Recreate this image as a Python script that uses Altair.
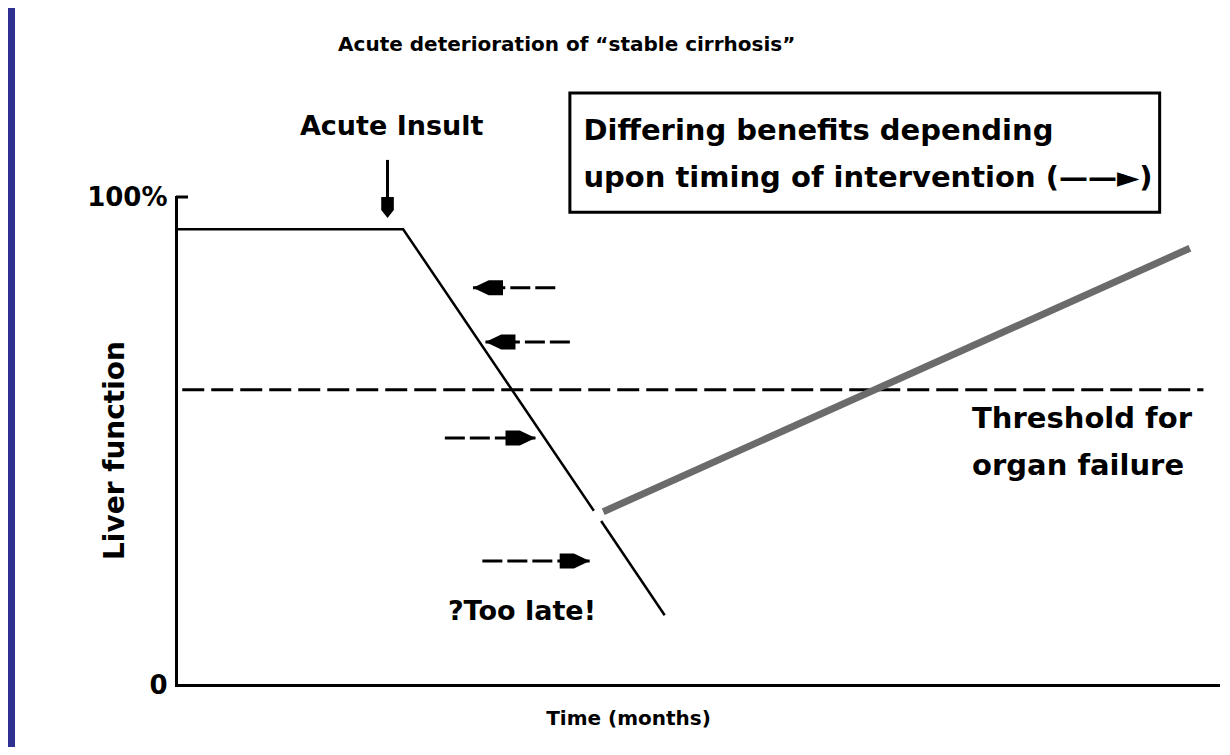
import altair as alt
import pandas as pd

# ---------------- data (time: arbitrary months 0-100, liver function: %) ----------------
course_time = [0.0, 21.8, 40.1]
course_function = [93.4, 93.4, 35.7]
late_time = [40.8, 46.9]
late_function = [33.6, 14.3]

recovery_time = [41.0, 97.3]
recovery_function = [35.5, 89.5]

threshold_function = 60.5
threshold_time = [0.6, 98.6]

intervention_level = [81.4, 70.3, 50.6, 25.4]
intervention_from = [36.4, 37.8, 25.8, 29.4]
intervention_to = [28.5, 29.7, 34.5, 39.7]

insult_time = 20.3
insult_from = 107.6
insult_to = 95.7

y_tick_values = [0, 100]
y_tick_labels = ["0", "100%"]

title_text = "Acute deterioration of \u201cstable cirrhosis\u201d"
title_pos = (37.5, 131.1)
insult_text = "Acute Insult"
insult_pos = (20.7, 114.3)
box_extent_t = [37.8, 94.4]
box_extent_f = [96.9, 121.3]
box_lines = ["Differing benefits depending", "upon timing of intervention (\u2014\u2014\u25ba)"]
box_lines_t = [39.1, 39.1]
box_lines_f = [111.7, 102.0]
threshold_lines = ["Threshold for", "organ failure"]
threshold_lines_t = [76.4, 76.4]
threshold_lines_f = [52.7, 43.0]
late_text = "?Too late!"
late_pos = (26.1, 13.3)

# ---------------- styling ----------------
FONT = "DejaVu Sans"
X = alt.Scale(domain=[0, 100], nice=False, zero=False)
Y = alt.Scale(domain=[0, 100], nice=False, zero=False)
PX_PER_T = 1042 / 100
PX_PER_F = 488 / 100
HEAD_LEN = 30  # px
LEFT_PATH = "M-1,0L0.05,-0.5L1,-0.5L1,0.5L0.05,0.5Z"
RIGHT_PATH = "M1,0L-0.05,-0.5L-1,-0.5L-1,0.5L-0.05,0.5Z"
DOWN_PATH = "M-0.6,-1L0.6,-1L0.6,0.25L0,1L-0.6,0.25Z"

label_expr = "'" + y_tick_labels[-1] + "'"
for v, l in reversed(list(zip(y_tick_values[:-1], y_tick_labels[:-1]))):
    label_expr = f"datum.value == {v} ? '{l}' : {label_expr}"

# ---------------- tables ----------------
course_df = pd.DataFrame({
    "t": course_time + late_time,
    "f": course_function + late_function,
    "seg": ["before"] * len(course_time) + ["late"] * len(late_time),
    "ord": list(range(len(course_time) + len(late_time))),
})
recovery_df = pd.DataFrame({"t": recovery_time, "f": recovery_function})
threshold_df = pd.DataFrame({"t": [threshold_time[0]], "t2": [threshold_time[1]], "f": [threshold_function]})

half = HEAD_LEN / 2 / PX_PER_T
arrows_df = pd.DataFrame({
    "f": intervention_level,
    "t_from": intervention_from,
    "t_to": intervention_to,
})
arrows_df["dir"] = ["left" if b < a else "right" for a, b in zip(intervention_from, intervention_to)]
arrows_df["head"] = [b + half if d == "left" else b - half
                     for b, d in zip(intervention_to, arrows_df["dir"])]

insult_head = insult_to + 10.5 / PX_PER_F
insult_df = pd.DataFrame({"t": [insult_time], "f": [insult_from], "f2": [insult_head], "fh": [insult_head]})

box_df = pd.DataFrame({"t": [box_extent_t[0]], "t2": [box_extent_t[1]],
                       "f": [box_extent_f[0]], "f2": [box_extent_f[1]]})
box_text_df = pd.DataFrame({"text": box_lines, "t": box_lines_t, "f": box_lines_f})
thr_text_df = pd.DataFrame({"text": threshold_lines, "t": threshold_lines_t, "f": threshold_lines_f})
title_df = pd.DataFrame({"text": [title_text], "t": [title_pos[0]], "f": [title_pos[1]]})
insult_text_df = pd.DataFrame({"text": [insult_text], "t": [insult_pos[0]], "f": [insult_pos[1]]})
late_text_df = pd.DataFrame({"text": [late_text], "t": [late_pos[0]], "f": [late_pos[1]]})


def xq(field):
    return alt.X(field, scale=X)


def yq(field):
    return alt.Y(field, scale=Y)


# ---------------- layers ----------------
course = alt.Chart(course_df).mark_line(color="black", strokeWidth=2.5).encode(
    x=alt.X("t:Q", scale=X, axis=alt.Axis(
        title="Time (months)", labels=False, ticks=False, grid=False,
        domainColor="black", domainWidth=3, domainCap="square",
        titleFont=FONT, titleFontSize=20, titleFontWeight="bold", titleColor="black",
        titleX=452, titleY=33, titleBaseline="middle", titleAlign="center")),
    y=alt.Y("f:Q", scale=Y, axis=alt.Axis(
        title="Liver function", values=y_tick_values, labelExpr=label_expr,
        ticks=False, grid=False, labelPadding=9,
        labelFont=FONT, labelFontSize=26, labelFontWeight="bold", labelColor="black",
        domainColor="black", domainWidth=3, domainCap="square",
        titleFont=FONT, titleFontSize=28, titleFontWeight="bold", titleColor="black",
        titleX=-53, titleY=253, titleAngle=270, titleBaseline="alphabetic", titleAlign="center")),
    detail="seg:N",
    order="ord:Q",
)

strip = alt.Chart(pd.DataFrame({"a": [0]})).mark_rect(color="#2E3192").encode(
    x=alt.value(-168), x2=alt.value(-161), y=alt.value(-189), y2=alt.value(550)
)

top_tick = alt.Chart(pd.DataFrame({"a": [0]})).mark_rule(color="black", strokeWidth=3).encode(
    x=alt.value(0), x2=alt.value(12), y=alt.Y(datum=y_tick_values[-1], scale=Y)
)

threshold = alt.Chart(threshold_df).mark_rule(color="black", strokeWidth=3, strokeDash=[22, 7]).encode(
    x=xq("t:Q"), x2="t2:Q", y=yq("f:Q")
)

recovery = alt.Chart(recovery_df).mark_line(color="#6b6b6b", strokeWidth=7, strokeCap="butt").encode(
    x=xq("t:Q"), y=yq("f:Q")
)

shafts = alt.Chart(arrows_df).mark_rule(color="black", strokeWidth=3, strokeDash=[20, 5]).encode(
    x=xq("t_from:Q"), x2="t_to:Q", y=yq("f:Q")
)

heads = alt.Chart(arrows_df).mark_point(filled=True, opacity=1, color="black", size=HEAD_LEN ** 2,
                                        strokeWidth=0).encode(
    x=xq("head:Q"), y=yq("f:Q"),
    shape=alt.Shape("dir:N", scale=alt.Scale(domain=["left", "right"], range=[LEFT_PATH, RIGHT_PATH]),
                    legend=None),
)

insult_shaft = alt.Chart(insult_df).mark_rule(color="black", strokeWidth=3).encode(
    x=xq("t:Q"), y=yq("f:Q"), y2="f2:Q"
)
insult_head_mark = alt.Chart(insult_df).mark_point(filled=True, opacity=1, color="black", size=441,
                                                   strokeWidth=0, shape=DOWN_PATH).encode(
    x=xq("t:Q"), y=yq("fh:Q")
)

box = alt.Chart(box_df).mark_rect(fill="white", stroke="black", strokeWidth=3).encode(
    x=xq("t:Q"), x2="t2:Q", y=yq("f:Q"), y2="f2:Q"
)


def text_layer(df, size, align, baseline):
    return alt.Chart(df).mark_text(font=FONT, fontSize=size, fontWeight="bold", color="black",
                                   align=align, baseline=baseline).encode(
        x=xq("t:Q"), y=yq("f:Q"), text="text:N"
    )


chart = alt.layer(
    course,
    strip,
    threshold,
    recovery,
    top_tick,
    shafts,
    heads,
    insult_shaft,
    insult_head_mark,
    box,
    text_layer(box_text_df, 29, "left", "alphabetic"),
    text_layer(thr_text_df, 29, "left", "alphabetic"),
    text_layer(title_df, 20, "center", "middle"),
    text_layer(insult_text_df, 27, "center", "middle"),
    text_layer(late_text_df, 27, "left", "alphabetic"),
).properties(
    width=1042,
    height=488,
    autosize=alt.AutoSizeParams(type="none"),
    padding={"left": 168, "top": 189, "right": 4, "bottom": 62},
    background="white",
).configure_view(stroke=None)

chart.save("out.html", embed_options={"renderer": "svg", "actions": False})
